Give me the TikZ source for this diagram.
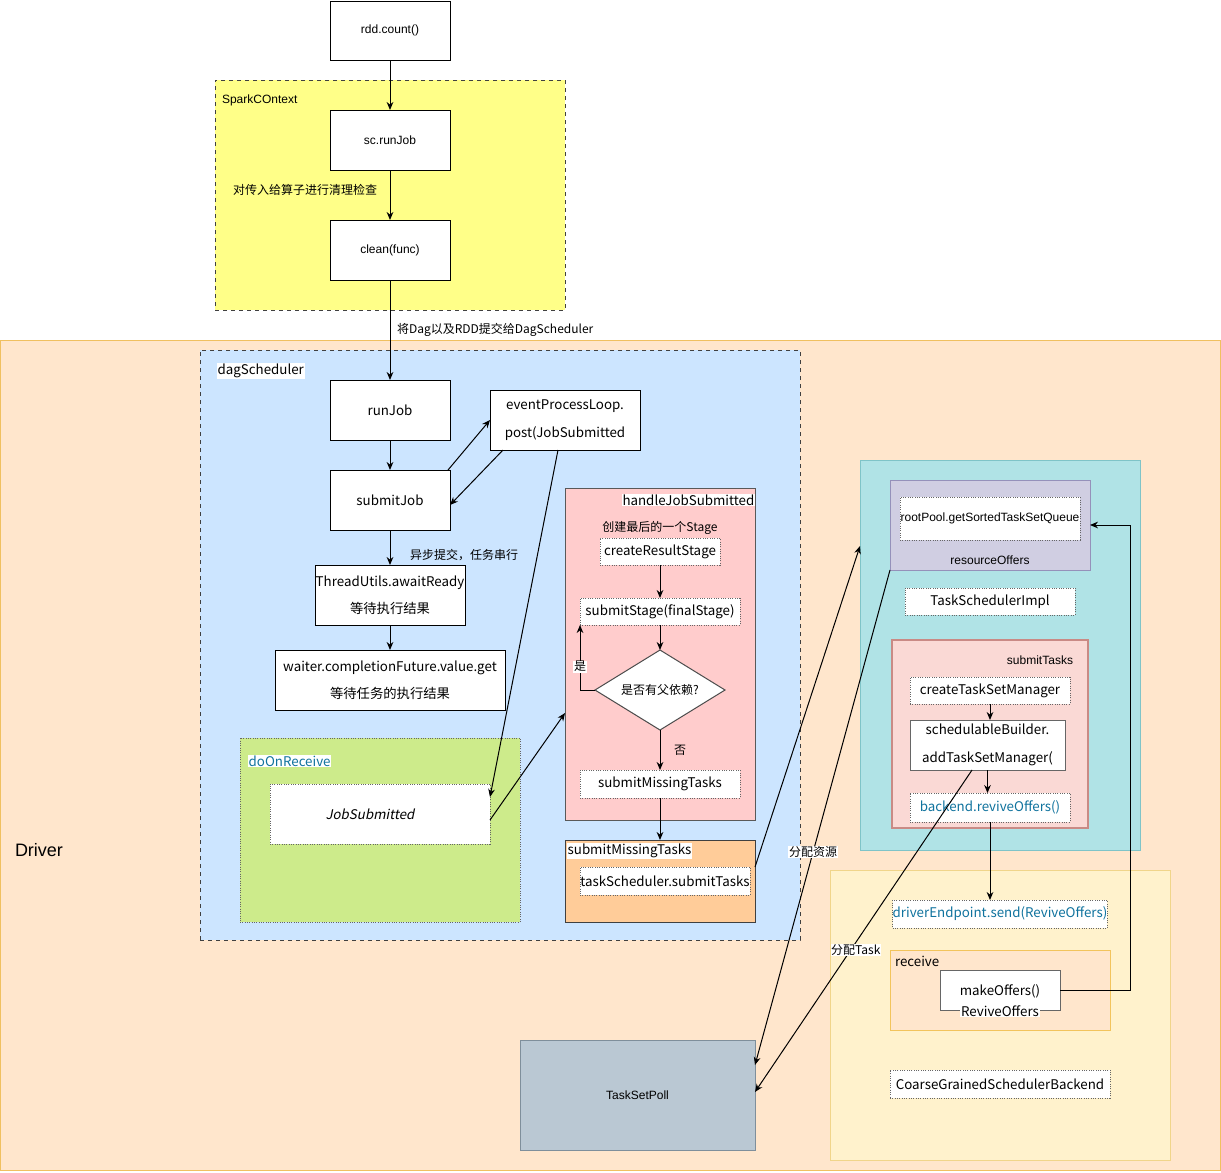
\documentclass[tikz,border=0pt]{standalone}
\usepackage{fontspec}
\setmainfont{Liberation Sans}
\newfontfamily\cjk{Noto Sans CJK SC}
\newfontfamily\cjkit[FakeSlant=0.2]{Noto Sans CJK SC}
\usetikzlibrary{arrows.meta,shapes.geometric,fit,calc}
\definecolor{cYellow}{HTML}{FFFF88}
\definecolor{cDriver}{HTML}{FFE6CC}
\definecolor{cDriverB}{HTML}{F0C060}
\definecolor{cBlue}{HTML}{CCE5FF}
\definecolor{cGreen}{HTML}{CDEB8B}
\definecolor{cPink}{HTML}{FFCCCC}
\definecolor{cOrange}{HTML}{FFCC99}
\definecolor{cTeal}{HTML}{B0E3E6}
\definecolor{cTealB}{HTML}{7FC4C8}
\definecolor{cPurp}{HTML}{D0CEE2}
\definecolor{cPurpB}{HTML}{9591BA}
\definecolor{cRose}{HTML}{FAD9D5}
\definecolor{cRoseB}{HTML}{C98A85}
\definecolor{cCream}{HTML}{FFF2CC}
\definecolor{cCreamB}{HTML}{F0D58A}
\definecolor{cRecv}{HTML}{FFE6CC}
\definecolor{cRecvB}{HTML}{F2C45C}
\definecolor{cSlate}{HTML}{BAC8D3}
\definecolor{cSlateB}{HTML}{7F8F9B}
\definecolor{cTxt}{HTML}{10739E}
\begin{document}
\begin{tikzpicture}[x=0.75pt,y=-0.75pt,
  every node/.style={inner sep=0pt, outer sep=0pt},
  rect/.style n args={4}{at={({(#1+#3)/2},{(#2+#4)/2})}, minimum width={(#3-#1)*0.75pt}, minimum height={(#4-#2)*0.75pt}, rectangle},
  ft/.style={font=\fontsize{9}{11}\selectfont},
  fc/.style={font=\cjk\fontsize{10}{12}\selectfont},
  fcs/.style={font=\cjk\fontsize{9}{11}\selectfont},
  box/.style={draw=black, fill=white, line width=0.75pt, inner sep=0pt, align=center},
  dbox/.style={draw=black!60, densely dotted, fill=white, line width=0.75pt, inner sep=0pt, align=center},
  cont/.style={line width=0.75pt, inner sep=0pt},
  arr/.style={-{Stealth[length=6pt,width=5pt]}, line width=0.75pt, black},
  lbl/.style={fill=white, inner sep=0.5pt}
]
\useasboundingbox (0,0) rectangle (1221,1172);

% containers
\node[cont, rect={215}{80}{565}{310}, draw=black!75, dashed, fill=cYellow] (sc) {};
\node[cont, rect={0.5}{340}{1220.5}{1170}, draw=cDriverB, fill=cDriver] (drv) {};
\node[cont, rect={200}{350}{800}{940}, draw=black!75, dashed, fill=cBlue] (dag) {};
\node[cont, rect={240}{738}{520}{922}, draw=black!60, densely dotted, fill=cGreen] (dor) {};
\node[cont, rect={565}{488}{755}{820}, draw=black!65, fill=cPink] (hjs) {};
\node[cont, rect={565}{840}{755}{922}, draw=black!75, fill=cOrange] (smt) {};
\node[cont, rect={860}{460}{1140}{850}, draw=cTealB, fill=cTeal] (tsi) {};
\node[cont, rect={890}{480}{1090}{570}, draw=cPurpB, fill=cPurp] (ro) {};
\node[cont, rect={892}{640}{1088}{828}, draw=cRoseB, fill=cRose, line width=1.2pt] (stc) {};
\node[cont, rect={830}{870}{1170}{1160}, draw=cCreamB, fill=cCream] (cgb) {};
\node[cont, rect={890}{950}{1110}{1030}, draw=cRecvB, fill=cRecv] (rcv) {};
\node[cont, rect={520}{1040}{755}{1150}, draw=cSlateB, fill=cSlate, ft] (tsp) {TaskSetPoll};

% boxes
\node[box, ft, rect={330}{1}{450}{60}] (rdd) {rdd.count()};
\node[box, ft, rect={330}{110}{450}{170}] (run1) {sc.runJob};
\node[box, ft, rect={330}{220}{450}{280}] (cln) {clean(func)};
\node[box, fc, rect={330}{380}{450}{440}] (rj) {runJob};
\node[box, fc, rect={490}{390}{640}{450}] (epl) {eventProcessLoop.\\[9.5pt]post(JobSubmitted};
\node[box, fc, rect={330}{470}{450}{530}] (sj) {submitJob};
\node[box, fc, rect={315}{565}{465}{625}] (tu) {ThreadUtils.awaitReady\\[8.5pt]等待执行结果};
\node[box, fc, rect={275}{650}{505}{710}] (wt) {waiter.completionFuture.value.get\\[8.5pt]等待任务的执行结果};
\node[dbox, rect={270}{784}{490}{844}, font=\cjkit\fontsize{10}{12}\selectfont] (js) {JobSubmitted\hspace*{15pt}};
\node[dbox, fc, rect={600}{538}{720}{565}] (crs) {createResultStage};
\node[dbox, fc, rect={580}{598}{740}{625}] (ss) {submitStage(finalStage)};
\node[draw=black!70, fill=white, line width=0.75pt, diamond, aspect=1.6, minimum width=97.5pt, minimum height=60pt, fcs] (dia) at (660,690) {是否有父依赖?};
\node[dbox, fc, rect={580}{770}{740}{798}] (sm) {submitMissingTasks};
\node[dbox, fc, rect={580}{867}{750}{895}] (tss) {taskScheduler.submitTasks};

\node[dbox, ft, rect={900}{497}{1080}{540}] (rp) {rootPool.getSortedTaskSetQueue};
\node[dbox, fc, rect={905}{588}{1075}{615}] (tsimpl) {TaskSchedulerImpl};
\node[dbox, fc, rect={910}{677}{1070}{704}] (ctm) {createTaskSetManager};
\node[box, draw=black!60, fc, rect={910}{720}{1065}{770}] (sb) {schedulableBuilder.\\[9.5pt]addTaskSetManager(};
\node[dbox, fc, text=cTxt, rect={910}{793}{1070}{822}] (rev) {backend.reviveOffers()};
\node[dbox, fc, text=cTxt, rect={895}{900}{1105}{928}] (de) {driverEndpoint.send(ReviveOffers)};
\node[box, draw=black!60, rect={940}{970}{1060}{1010}] (mo) {};
\node[fc] (mot) at (1000,991) {makeOffers()};
\node[fc, lbl] (mot2) at (1000,1011) {ReviveOffers};
\node[dbox, fc, rect={890}{1070}{1110}{1098}] (cgbx) {CoarseGrainedSchedulerBackend};

% labels
\node[ft, anchor=west] (lsc) at (222,100) {SparkCOntext};
\node[fcs] (l1) at (305,190) {对传入给算子进行清理检查};
\node[fcs, anchor=west] (l2) at (397,330) {将Dag以及RDD提交给DagScheduler};
\node[font=\fontsize{13.5}{16}\selectfont, anchor=west] (ldrv) at (15,850) {Driver};
\node[fc, anchor=west, lbl] (ldag) at (217,371) {dagScheduler};
\node[fcs, anchor=west] (l3) at (410,555) {异步提交，任务串行};
\node[fc, anchor=west, lbl, text=cTxt] (ldor) at (248,761) {doOnReceive};
\node[fc, anchor=east, lbl] (lhjs) at (755,500) {handleJobSubmitted};
\node[fcs] (l4) at (660,528) {创建最后的一个Stage};
\node[fc, anchor=west, lbl] (lsmt) at (567,851) {submitMissingTasks};
\node[ft] (lro) at (990,560) {resourceOffers};
\node[ft, anchor=east] (lst) at (1073,660) {submitTasks};
\node[fc, anchor=west] (lrcv) at (895,961) {receive};

% connectors
\draw[arr] (rdd) -- (run1);
\draw[arr] (run1) -- (cln);
\draw[arr] (cln) -- (rj);
\draw[arr] (rj) -- (sj);
\draw[arr] (sj) -- (tu);
\draw[arr] (tu) -- (wt);
\draw[arr] ([xshift=-1.5pt]sj.north east) -- (epl.west);
\draw[arr] ([xshift=9.75pt]epl.south west) -- ([yshift=-3.75pt]sj.east);
\draw[arr] ([xshift=-5.25pt]epl.south) -- ([yshift=-9.75pt]js.north east);
\draw[arr] ([yshift=-4.5pt]js.east) -- ([yshift=-44.25pt]hjs.west);
\draw[arr] (crs) -- (ss);
\draw[arr] (ss) -- (dia);
\draw[arr] (dia.west) -| (ss.south west) node[pos=0.68, fcs, lbl] {是};
\draw[arr] (dia) -- (sm) node[pos=0.5, xshift=15pt, fcs] {否};
\draw[arr] (sm) -- (smt);
\draw[arr] ([yshift=10.5pt]smt.east) -- ([yshift=81.75pt]tsi.west);
\draw[arr] (ro.south west) -- ([yshift=22.5pt]tsp.east) node[pos=0.57, fcs, lbl] {分配资源};
\draw[arr] ([xshift=-11.6pt]sb.south) -- ([yshift=2.25pt]tsp.east) node[pos=0.56, xshift=4pt, fcs, lbl] {分配Task};
\draw[arr] (ctm.south) -- (ctm.south |- sb.north);
\draw[arr] (sb.south) -- (sb.south |- rev.north);
\draw[arr] (rev.south) -- (rev.south |- de.north);
\draw[arr] (mo.east) -- ++(70,0) |- (ro.east);
\end{tikzpicture}
\end{document}
